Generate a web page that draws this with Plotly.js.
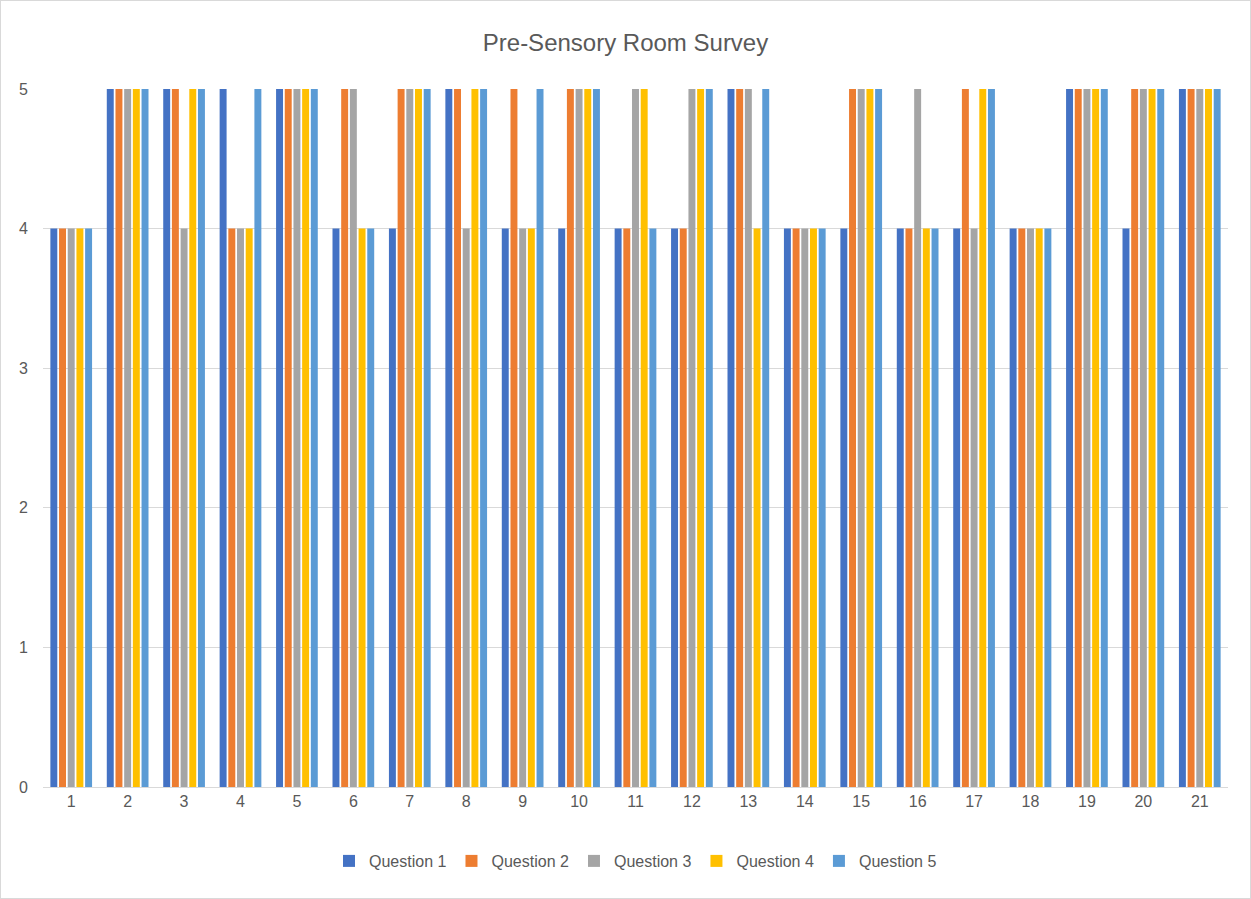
<!DOCTYPE html>
<html>
<head>
<meta charset="utf-8">
<script src="https://cdn.plot.ly/plotly-3.0.1.min.js"></script>
<style>
html,body{margin:0;padding:0;background:#fff;}
#chart{width:1251px;height:899px;box-sizing:border-box;border:1px solid #d9d9d9;}
</style>
</head>
<body>
<div id="chart"></div>
<script>
const categories = ["1","2","3","4","5","6","7","8","9","10","11","12","13","14","15","16","17","18","19","20","21"];
const question1 = [4,5,5,5,5,4,4,5,4,4,4,4,5,4,4,4,4,4,5,4,5];
const question2 = [4,5,5,4,5,5,5,5,5,5,4,4,5,4,5,4,5,4,5,5,5];
const question3 = [4,5,4,4,5,5,5,4,4,5,5,5,5,4,5,5,4,4,5,5,5];
const question4 = [4,5,5,4,5,4,5,5,4,5,5,5,4,4,5,4,5,4,5,5,5];
const question5 = [4,5,5,5,5,4,5,5,5,5,4,5,5,4,5,4,5,4,5,5,5];
const seriesNames = ["Question 1","Question 2","Question 3","Question 4","Question 5"];
const seriesColors = ["#4472C4","#ED7D31","#A5A5A5","#FFC000","#5B9BD5"];
const seriesValues = [question1, question2, question3, question4, question5];

const font = "'Liberation Sans Narrow', 'Arial Narrow', 'Liberation Sans', Arial, sans-serif";

const traces = seriesValues.map((vals, i) => ({
  type: 'bar',
  name: seriesNames[i],
  x: categories,
  y: vals,
  marker: {color: seriesColors[i], line: {width: 0}}
}));

const layout = {
  width: 1249, height: 897,
  margin: {l: 42, r: 22, t: 88, b: 111, autoexpand: false},
  paper_bgcolor: '#fff', plot_bgcolor: '#fff',
  barmode: 'group',
  bargap: 0.23,
  bargroupgap: 0.2,
  title: {text: 'Pre-Sensory Room Survey', x: 0.5, xanchor: 'center', y: 1 - 42/897, yanchor: 'middle',
          font: {family: font, size: 24, color: '#595959'}},
  xaxis: {type: 'category', showgrid: false, showline: true, linecolor: '#D9D9D9', linewidth: 1,
          ticks: '', tickfont: {family: font, size: 16, color: '#595959'}, fixedrange: true},
  yaxis: {range: [0, 5], dtick: 1, tick0: 0, showgrid: true, gridcolor: '#D9D9D9', gridwidth: 1,
          zeroline: false, showline: false, ticks: '', ticklabelstandoff: 14,
          tickfont: {family: font, size: 16, color: '#595959'}, fixedrange: true},
  showlegend: true,
  legend: {orientation: 'h', x: 0.5, xanchor: 'center', y: (787 - 861) / 698, yanchor: 'middle',
           font: {family: font, size: 16, color: '#595959'}, itemwidth: 30, tracegroupgap: 0,
           traceorder: 'normal'},
};

Plotly.newPlot('chart', traces, layout, {displayModeBar: false, staticPlot: true});
</script>
</body>
</html>
